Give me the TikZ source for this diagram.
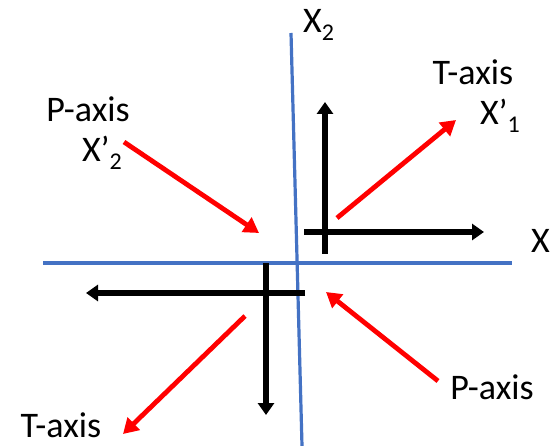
\documentclass[tikz,border=0pt]{standalone}
\usepackage{fontspec}
\setmainfont{Carlito}
\usetikzlibrary{arrows.meta}
\definecolor{axblue}{RGB}{68,114,196}
\newcommand{\subx}[1]{\raisebox{-0.22em}{\fontsize{24}{24}\selectfont #1}}
\begin{document}
\begin{tikzpicture}[x=1pt,y=-1pt,
  lbl/.style={inner sep=0pt,font=\fontsize{36}{40}\selectfont},
  axisline/.style={draw=axblue,line width=3.2pt},
  blk/.style={draw=black,line width=5.5pt,-{Triangle[length=12pt,width=16pt]}},
  redarr/.style={draw=red,line width=4.8pt,-{Triangle[length=15pt,width=17pt]}}]
\useasboundingbox[fill=white] (0,0) rectangle (551,446);
% axes
\coordinate (vtop) at (291,33);
\coordinate (vbot) at (302,446);
\coordinate (hleft) at (43,263);
\coordinate (hright) at (512,263);
\draw[axisline] (vtop) -- (vbot);
\draw[axisline] (hleft) -- (hright);
% labels
\node[lbl,anchor=base west] (x2) at (303,33) {X\subx{2}};
\node[lbl,anchor=base west] (x1) at (531,252) {X};
\node[lbl,anchor=base] (tup) at (473,85) {T-axis};
\node[lbl,anchor=base west] (x1p) at (480,125) {X’\subx{1}};
\node[lbl,anchor=base] (pup) at (88,122) {P-axis};
\node[lbl,anchor=base west] (x2p) at (82,162) {X’\subx{2}};
\node[lbl,anchor=base] (pdn) at (492,399) {P-axis};
\node[lbl,anchor=base] (tdn) at (61,437) {T-axis};
% black arrows upper right
\coordinate (ua0) at (325,254);
\coordinate (ua1) at (325,102);
\coordinate (ub0) at (304,232);
\coordinate (ub1) at (484,232);
\draw[blk] (ua0) -- (ua1);
\draw[blk] (ub0) -- (ub1);
% black arrows lower left
\coordinate (la0) at (305,293);
\coordinate (la1) at (86,293);
\coordinate (lb0) at (266,263);
\coordinate (lb1) at (266,415);
\draw[blk] (la0) -- (la1);
\draw[blk] (lb0) -- (lb1);
% red arrows
\coordinate (r1a) at (337,218);
\coordinate (r1b) at (456,120);
\coordinate (r2a) at (124,142);
\coordinate (r2b) at (259,233);
\coordinate (r3a) at (438,381);
\coordinate (r3b) at (326,292);
\coordinate (r4a) at (245,316);
\coordinate (r4b) at (123,434);
\draw[redarr] (r1a) -- (r1b);
\draw[redarr] (r2a) -- (r2b);
\draw[redarr] (r3a) -- (r3b);
\draw[redarr] (r4a) -- (r4b);
\end{tikzpicture}
\end{document}
